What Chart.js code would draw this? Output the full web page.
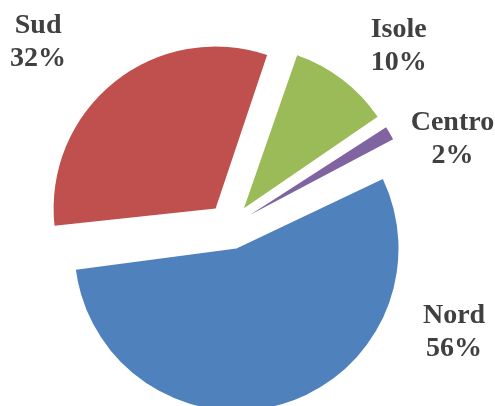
<!DOCTYPE html>
<html>
<head>
<meta charset="utf-8">
<script src="https://cdn.jsdelivr.net/npm/chart.js@4/dist/chart.umd.min.js"></script>
<style>
  html, body { margin: 0; padding: 0; background: #ffffff; }
  #wrap { width: 495px; height: 406px; position: relative; }
</style>
</head>
<body>
<div id="wrap"><canvas id="pie"></canvas></div>
<script>
// Chart data (percent shares, clockwise starting from Nord)
const regions = ['Nord', 'Sud', 'Isole', 'Centro'];
const shares = [55.7, 31.9, 10.4, 2.0];
const sliceColors = ['#4f81bd', '#c0504d', '#9bbb59', '#8064a2'];

// Where each label block sits: angle (deg, clockwise from top) and distance from pie centre
const labelSpots = [
  { angle: 115.2, dist: 247.6 },
  { angle: 313.9, dist: 266.3 },
  { angle: 43.0, dist: 247.3 },
  { angle: 68.4, dist: 239.2 }
];

// Chart.js grows the radius of exploded slices by an amount that depends on their size;
// keep every slice at the same radius like the original
const evenRadius = {
  id: 'evenRadius',
  beforeDatasetsDraw(chart) {
    chart.data.datasets.forEach((ds, i) => {
      const meta = chart.getDatasetMeta(i);
      meta.data.forEach(arc => {
        const off = (arc.options.offset || 0) / 4;
        const fix = 1 - Math.sin(Math.min(Math.PI, arc.circumference || 0));
        arc.outerRadius = meta.controller.outerRadius - off * fix;
      });
    });
  }
};

// Two-line "name / percent" labels
const sliceLabels = {
  id: 'sliceLabels',
  afterDatasetsDraw(chart) {
    const meta = chart.getDatasetMeta(0);
    const values = chart.data.datasets[0].data;
    const total = values.reduce((a, b) => a + b, 0);
    const ctx = chart.ctx;
    ctx.save();
    ctx.font = 'bold 28px "Liberation Serif", "DejaVu Serif", serif';
    ctx.fillStyle = '#404040';
    ctx.textAlign = 'center';
    ctx.textBaseline = 'middle';
    meta.data.forEach((arc, i) => {
      const spot = labelSpots[i];
      const a = spot.angle * Math.PI / 180;
      const x = arc.x + Math.sin(a) * spot.dist;
      const y = arc.y - Math.cos(a) * spot.dist;
      const pct = Math.round(values[i] / total * 100) + '%';
      ctx.fillText(chart.data.labels[i], x, y - 16);
      ctx.fillText(pct, x, y + 17);
    });
    ctx.restore();
  }
};

new Chart(document.getElementById('pie'), {
  type: 'pie',
  data: {
    labels: regions,
    datasets: [{
      data: shares,
      backgroundColor: sliceColors,
      borderWidth: 0,
      offset: 92,
      hoverOffset: 0,
      radius: 162,
      rotation: 63.3
    }]
  },
  options: {
    responsive: true,
    maintainAspectRatio: false,
    animation: false,
    events: [],
    layout: {
      padding: { left: 0, right: 35, top: 47, bottom: 0 }
    },
    plugins: {
      legend: { display: false },
      tooltip: { enabled: false }
    }
  },
  plugins: [evenRadius, sliceLabels]
});
</script>
</body>
</html>
